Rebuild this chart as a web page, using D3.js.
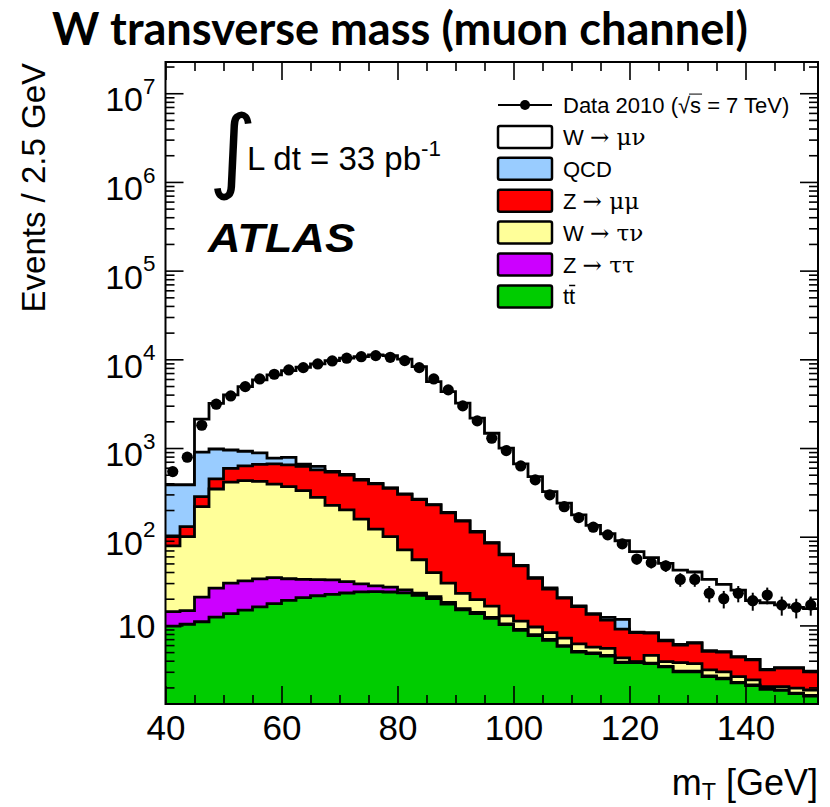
<!DOCTYPE html>
<html>
<head>
<meta charset="utf-8">
<script src="https://cdn.jsdelivr.net/npm/d3@7"></script>
<style>
  body { margin: 0; background: #fff; }
  svg { display: block; }
</style>
</head>
<body>
<svg id="chart" width="830" height="807"></svg>
<script>
// ---- binning: 45 bins of 2.5 GeV starting at 40 GeV ----
const binLow = 40;
const binWidth = 2.5;

// ---- observed events per bin (Data 2010) ----
const data2010 = [542, 788, 1807, 3118, 3866, 4920, 6010, 6790, 7590, 8060,
  8870, 9590, 10290, 10710, 11010, 10540, 9660, 8060, 6010, 4520,
  2985, 2022, 1289, 935, 628, 437, 296, 218, 164, 128,
  105, 83, 56, 51, 47, 33, 33, 23, 20, 23,
  19, 22, 17, 16, 17];

// ---- expected events per bin, per process ----
const ttbar = [9.8, 10.3, 11.0, 12.4, 13.6, 14.9, 16.2, 17.6, 19.2, 20.6,
  21.6, 22.4, 23.2, 23.9, 24.0, 23.8, 23.3, 21.8, 20.0, 17.4,
  15.0, 13.6, 12.0, 10.2, 8.8, 7.7, 6.8, 5.8, 5.0, 4.8,
  4.5, 3.8, 3.8, 3.7, 3.4, 3.0, 3.0, 2.65, 2.5, 2.25,
  2.1, 1.9, 1.85, 1.7, 1.6];
const ztautau = [4.5, 4.4, 9.8, 13.9, 16.3, 16.9, 17.2, 17.0, 14.4, 12.4,
  11.2, 10.2, 8.0, 5.5, 3.9, 3.2, 1.8, 1.3, 1.1, 0.8,
  0.5, 0.4, 0.3, 0.2, 0.2, 0.15, 0.15, 0.1, 0.1, 0.1,
  0.1, 0.05, 0.05, 0.05, 0.05, 0.05, 0.05, 0.05, 0.05, 0.03,
  0.03, 0.03, 0.03, 0.02, 0.02];
const wtaunu = [64.7, 85.3, 197.2, 318.7, 382.1, 398.2, 386.6, 356.4, 334.4, 298.0,
  245.2, 193.4, 169.8, 128.6, 94.1, 73.0, 45.9, 31.9, 18.3, 11.7,
  7.5, 5.5, 4.2, 2.4, 2.2, 1.75, 1.35, 1.3, 1.1, 0.8,
  0.9, 0.45, 0.05, 0.85, 0.45, 0.75, 0.65, 0.45, 0.45, 0.37,
  0.3, 0.11, 0.16, 0.24, 0.25];
const zmumu = [23, 30, 65, 104, 179, 198, 235, 271, 277, 291,
  290, 309, 294, 277, 273, 252, 229, 207, 188.6, 156.1,
  127, 93.5, 68.5, 49.6, 35.7, 24.4, 17.3, 13.1, 10.1, 7.6,
  6.0, 4.8, 4.4, 3.6, 2.8, 2.2, 2.6, 1.95, 2.0, 1.75,
  1.67, 1.11, 1.26, 1.34, 1.13];
const qcd = [282, 254, 617, 526, 359, 292, 225, 108, 140, 38,
  52, 10, 10, 7, 5, 4, 3, 3, 2, 2,
  2, 2, 1, 1.1, 0.6, 0.5, 0.9, 0.3, 0.3, 0.3,
  0.8, 2.6, 0.1, 0.1, 0.1, 0.1, 0.1, 0.1, 0.05, 0.05,
  0.05, 0.05, 0.05, 0.05, 0.05];
const wmunu = [0, 0, 1213, 2215, 3020, 4010, 4980, 5900, 6685, 7480,
  8250, 9145, 9785, 10268, 10800, 10644, 9727, 8005, 5380, 4138,
  3048, 2053, 1382, 931.5, 614.5, 441.5, 295.5, 218.4, 159.4, 120.4,
  95.7, 78.3, 59.6, 49.7, 43.2, 35.9, 33.6, 27.8, 23.95, 20.55,
  14.85, 14.8, 13.65, 12.65, 12.45];

// ---- axis ticks ----
const xMajorTicks = [40, 60, 80, 100, 120, 140];
const xMinorTicks = [45, 50, 55, 65, 70, 75, 85, 90, 95, 105, 110, 115, 125, 130, 135, 145, 150];
const yMajorTicks = [10, 1e2, 1e3, 1e4, 1e5, 1e6, 1e7];
const yMinorTicks = [2, 3, 4, 5, 6, 7, 8, 9,
  20, 30, 40, 50, 60, 70, 80, 90,
  200, 300, 400, 500, 600, 700, 800, 900,
  2e3, 3e3, 4e3, 5e3, 6e3, 7e3, 8e3, 9e3,
  2e4, 3e4, 4e4, 5e4, 6e4, 7e4, 8e4, 9e4,
  2e5, 3e5, 4e5, 5e5, 6e5, 7e5, 8e5, 9e5,
  2e6, 3e6, 4e6, 5e6, 6e6, 7e6, 8e6, 9e6, 2e7];
const xRange = [40, 152.5];
const yRange = [1.3, 2.25e7];

// ---- processes, bottom of the stack first ----
const processKeys = ["ttbar", "ztautau", "wtaunu", "zmumu", "qcd", "wmunu"];
const processColors = {
  ttbar: "#00cc00", ztautau: "#cc00ff", wtaunu: "#ffff99",
  zmumu: "#ff0000", qcd: "#99ccff", wmunu: "#ffffff"
};
const processSeries = { ttbar, ztautau, wtaunu, zmumu, qcd, wmunu };

// ---- legend entries (top to bottom) ----
const legendEntries = [
  { key: "wmunu", parts: [["W ", "s"], ["→ ", "g"], ["μν", "g"]] },
  { key: "qcd", parts: [["QCD", "s"]] },
  { key: "zmumu", parts: [["Z ", "s"], ["→ ", "g"], ["μμ", "g"]] },
  { key: "wtaunu", parts: [["W ", "s"], ["→ ", "g"], ["τν", "g"]] },
  { key: "ztautau", parts: [["Z ", "s"], ["→ ", "g"], ["ττ", "g"]] },
  { key: "ttbar", parts: [["tt", "s"]], bar: 1 }
];

// ---- layout ----
const frame = { left: 165.5, right: 818, top: 62, bottom: 704 };
const sans = "'Liberation Sans', Arial, Helvetica, sans-serif";
const greek = "'DejaVu Serif', 'Liberation Serif', serif";

const svg = d3.select("#chart");
const x = d3.scaleLinear().domain(xRange).range([frame.left, frame.right]);
const y = d3.scaleLog().domain(yRange).range([frame.bottom, frame.top]);

// table of bins for the stack layout
const rows = data2010.map((_, i) => {
  const r = { lo: binLow + i * binWidth, hi: binLow + (i + 1) * binWidth };
  processKeys.forEach(k => { r[k] = processSeries[k][i]; });
  return r;
});
const stacked = d3.stack().keys(processKeys)(rows);

svg.append("defs").append("clipPath").attr("id", "plotClip")
  .append("rect")
  .attr("x", frame.left).attr("y", frame.top)
  .attr("width", frame.right - frame.left).attr("height", frame.bottom - frame.top);

const plot = svg.append("g").attr("clip-path", "url(#plotClip)");

// step outline points of a cumulative layer
function stepPoints(layer) {
  const pts = [];
  layer.forEach(d => {
    const top = Math.max(d[1], yRange[0] * 0.5);
    pts.push([x(d.data.lo), y(top)]);
    pts.push([x(d.data.hi), y(top)]);
  });
  return pts;
}
const area = d3.area().x(p => p[0]).y0(frame.bottom + 5).y1(p => p[1]);
const line = d3.line().x(p => p[0]).y(p => p[1]);

// draw the cumulative histograms from the top of the stack down
stacked.slice().reverse().forEach(layer => {
  const pts = stepPoints(layer);
  plot.append("path").attr("d", area(pts))
    .attr("fill", processColors[layer.key]).attr("stroke", "none");
  plot.append("path").attr("d", line(pts))
    .attr("fill", "none").attr("stroke", "#000").attr("stroke-width", 2.8)
    .attr("stroke-linejoin", "miter");
});

// data points with statistical error bars
const pts = plot.append("g");
rows.forEach((r, i) => {
  const n = data2010[i];
  const cx = x((r.lo + r.hi) / 2);
  const err = Math.sqrt(n);
  pts.append("line")
    .attr("x1", cx).attr("x2", cx)
    .attr("y1", y(n + err)).attr("y2", y(Math.max(n - err, yRange[0])))
    .attr("stroke", "#000").attr("stroke-width", 2);
  pts.append("circle").attr("cx", cx).attr("cy", y(n)).attr("r", 5.6).attr("fill", "#000");
});

// ---- axes (ticks drawn inside the frame) ----
function styleAxis(g) {
  g.select(".domain").remove();
  g.selectAll(".tick line").attr("stroke", "#000").attr("stroke-width", 1.6);
  g.attr("font-family", sans).attr("font-size", 35);
  g.selectAll(".tick text").attr("fill", "#000");
}
// bottom
svg.append("g").attr("transform", `translate(0,${frame.bottom})`)
  .call(d3.axisBottom(x).tickValues(xMinorTicks).tickSize(-9).tickSizeOuter(0).tickFormat(""))
  .call(styleAxis);
svg.append("g").attr("transform", `translate(0,${frame.bottom})`)
  .call(d3.axisBottom(x).tickValues(xMajorTicks).tickSize(-18).tickSizeOuter(0).tickPadding(11).tickFormat(d3.format("d")))
  .call(styleAxis);
// top
svg.append("g").attr("transform", `translate(0,${frame.top})`)
  .call(d3.axisTop(x).tickValues(xMinorTicks).tickSize(-9).tickSizeOuter(0).tickFormat(""))
  .call(styleAxis);
svg.append("g").attr("transform", `translate(0,${frame.top})`)
  .call(d3.axisTop(x).tickValues(xMajorTicks).tickSize(-18).tickSizeOuter(0).tickFormat(""))
  .call(styleAxis);
// left
svg.append("g").attr("transform", `translate(${frame.left},0)`)
  .call(d3.axisLeft(y).tickValues(yMinorTicks).tickSize(-9).tickSizeOuter(0).tickFormat(""))
  .call(styleAxis);
const yLab = svg.append("g").attr("transform", `translate(${frame.left},0)`)
  .call(d3.axisLeft(y).tickValues(yMajorTicks).tickSize(-18).tickSizeOuter(0).tickPadding(10).tickFormat(""))
  .call(styleAxis);
yLab.attr("font-size", 34);
yLab.selectAll(".tick text").each(function (d) {
  const t = d3.select(this);
  const e = Math.round(Math.log10(d));
  t.text(null);
  if (e === 1) {
    t.attr("dy", "0.36em");
    t.append("tspan").text("10");
  } else {
    t.attr("dy", "0.52em");
    t.append("tspan").text("10");
    t.append("tspan").attr("dy", "-0.78em").attr("font-size", "0.66em").text(e);
  }
});
// right
svg.append("g").attr("transform", `translate(${frame.right},0)`)
  .call(d3.axisRight(y).tickValues(yMinorTicks).tickSize(-9).tickSizeOuter(0).tickFormat(""))
  .call(styleAxis);
svg.append("g").attr("transform", `translate(${frame.right},0)`)
  .call(d3.axisRight(y).tickValues(yMajorTicks).tickSize(-18).tickSizeOuter(0).tickFormat(""))
  .call(styleAxis);

// frame
svg.append("rect")
  .attr("x", frame.left).attr("y", frame.top)
  .attr("width", frame.right - frame.left).attr("height", frame.bottom - frame.top)
  .attr("fill", "none").attr("stroke", "#000").attr("stroke-width", 2);

// ---- axis titles ----
svg.append("text")
  .attr("transform", `translate(45,63) rotate(-90)`)
  .attr("text-anchor", "end")
  .attr("font-family", sans).attr("font-size", 33)
  .text("Events / 2.5 GeV");

const xTitle = svg.append("text")
  .attr("x", frame.right).attr("y", 795)
  .attr("text-anchor", "end")
  .attr("font-family", sans).attr("font-size", 36);
xTitle.append("tspan").text("m");
xTitle.append("tspan").attr("font-size", "0.65em").attr("dy", "0.2em").text("T");
xTitle.append("tspan").attr("dy", "-0.13em").text(" [GeV]");

// ---- page title ----
const title = svg.append("text")
  .attr("x", 52).attr("y", 45)
  .attr("font-family", "Lato, 'Open Sans', sans-serif").attr("font-weight", 700)
  .attr("font-size", 40)
  .text("W transverse mass (muon channel)");
const titleLen = title.node().getComputedTextLength();
title.attr("font-size", 40 * 696 / titleLen);

// ---- luminosity and experiment labels ----
svg.append("text")
  .attr("x", 209).attr("y", 181)
  .attr("font-family", "'DejaVu Sans', sans-serif").attr("font-size", 92)
  .text("∫");
const lumi = svg.append("text")
  .attr("x", 247).attr("y", 170)
  .attr("font-family", sans).attr("font-size", 33);
lumi.append("tspan").text("L dt = 33 pb");
lumi.append("tspan").attr("dy", "-0.62em").attr("font-size", "0.68em").text("-1");

svg.append("text")
  .attr("x", 208).attr("y", 252)
  .attr("font-family", sans).attr("font-weight", 700).attr("font-style", "italic")
  .attr("font-size", 40)
  .attr("textLength", 147).attr("lengthAdjust", "spacingAndGlyphs")
  .text("ATLAS");

// ---- legend ----
const leg = svg.append("g");
const legX = 498, legW = 54, legH = 22, legTextX = 563, legFont = 22;
const rowY0 = 105, rowStep = 31.9;

leg.append("line").attr("x1", legX).attr("x2", legX + legW)
  .attr("y1", rowY0).attr("y2", rowY0).attr("stroke", "#000").attr("stroke-width", 2);
leg.append("circle").attr("cx", legX + legW / 2).attr("cy", rowY0).attr("r", 5).attr("fill", "#000");
const dataLabel = leg.append("text")
  .attr("x", legTextX).attr("y", rowY0 + 8)
  .attr("font-family", sans).attr("font-size", legFont);
dataLabel.append("tspan").text("Data 2010 (");
dataLabel.append("tspan").text("√");
dataLabel.append("tspan").text("s = 7 TeV)");
// bar over the "s" under the root sign
{
  const node = dataLabel.node();
  const iRoot = "Data 2010 (".length;
  const endRoot = node.getEndPositionOfChar(iRoot);
  const endS = node.getEndPositionOfChar(iRoot + 1);
  leg.append("line")
    .attr("x1", endRoot.x - 1).attr("x2", endS.x + 1)
    .attr("y1", rowY0 + 8 - legFont * 0.86).attr("y2", rowY0 + 8 - legFont * 0.86)
    .attr("stroke", "#000").attr("stroke-width", 1);
}

legendEntries.forEach((entry, i) => {
  const cy = rowY0 + rowStep * (i + 1);
  leg.append("rect")
    .attr("x", legX).attr("y", cy - legH / 2)
    .attr("width", legW).attr("height", legH).attr("rx", 2)
    .attr("fill", processColors[entry.key])
    .attr("stroke", "#000").attr("stroke-width", 2.5);
  const t = leg.append("text")
    .attr("x", legTextX).attr("y", cy + 8)
    .attr("font-size", legFont);
  entry.parts.forEach(([s, f]) => {
    const sp = t.append("tspan").attr("font-family", f === "g" ? greek : sans).text(s);
    if (f === "g") sp.attr("font-size", legFont * 1.05);
  });
  if (entry.bar !== undefined) {
    const node = t.node();
    const a = node.getStartPositionOfChar(entry.bar);
    const b = node.getEndPositionOfChar(entry.bar);
    leg.append("line")
      .attr("x1", a.x).attr("x2", b.x)
      .attr("y1", cy + 8 - legFont * 0.86).attr("y2", cy + 8 - legFont * 0.86)
      .attr("stroke", "#000").attr("stroke-width", 1.5);
  }
});
</script>
</body>
</html>
